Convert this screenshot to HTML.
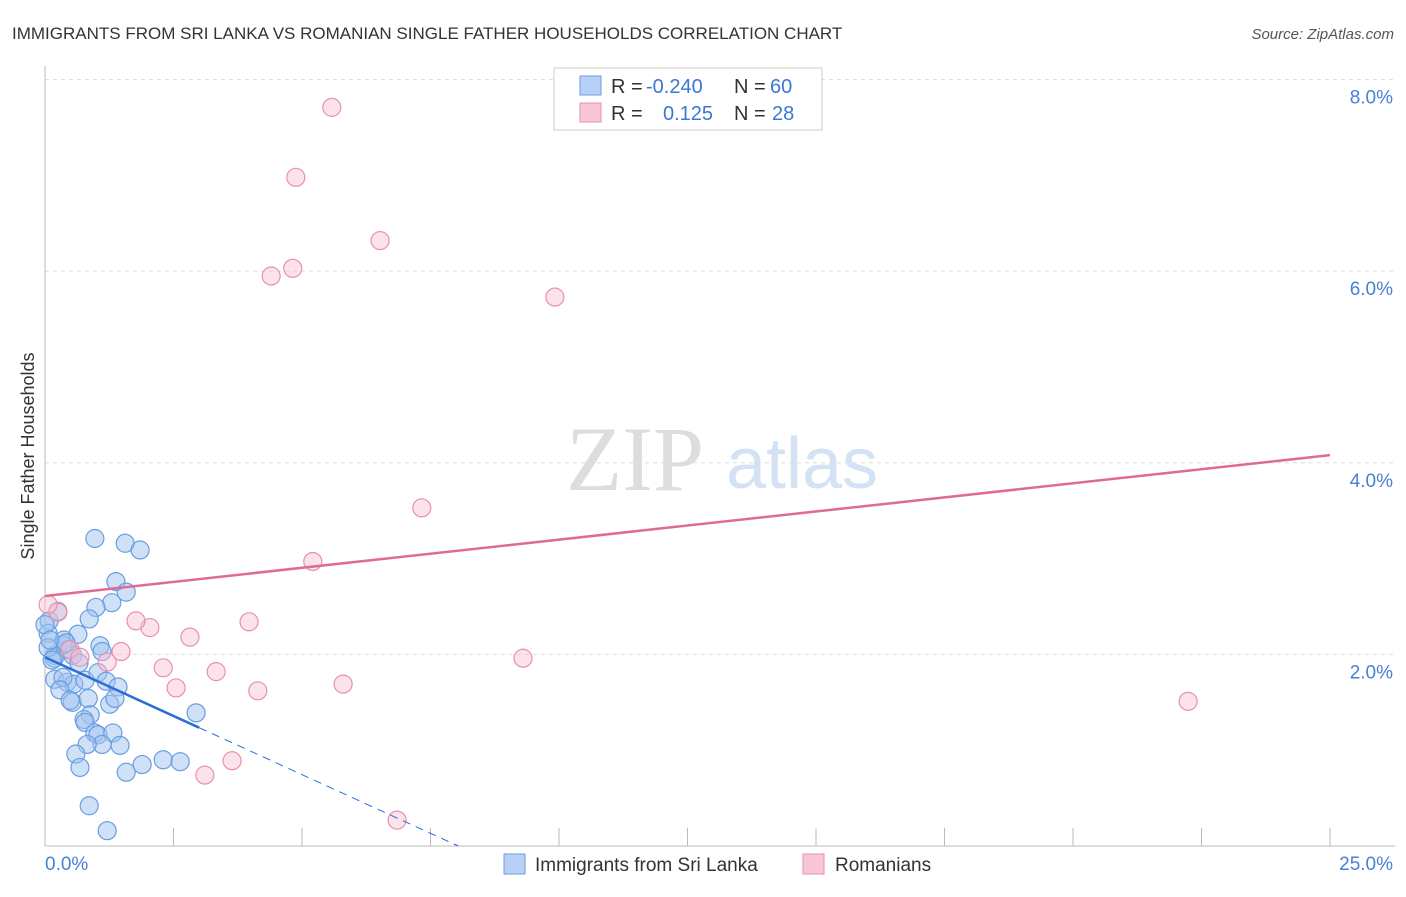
<!DOCTYPE html>
<html><head><meta charset="utf-8"><style>
body{margin:0;background:#fff;font-family:"Liberation Sans",sans-serif;}
</style></head><body>
<svg width="1406" height="892" xmlns="http://www.w3.org/2000/svg" font-family="Liberation Sans, sans-serif">
<text x="12" y="39" font-size="17" fill="#333">IMMIGRANTS FROM SRI LANKA VS ROMANIAN SINGLE FATHER HOUSEHOLDS CORRELATION CHART</text>
<text x="1394" y="39" font-size="15" fill="#555" font-style="italic" text-anchor="end">Source: ZipAtlas.com</text>
<text x="34" y="456" font-size="18" fill="#333" text-anchor="middle" transform="rotate(-90 34 456)">Single Father Households</text>
<g>
<text x="635" y="490" font-size="92" fill="#ddd" font-family="Liberation Serif, serif" text-anchor="middle">ZIP</text>
<text x="802" y="488" font-size="72" fill="#d4e2f5" text-anchor="middle">atlas</text>
</g>
<g id="grid"></g>
<g id="axes"></g>
<g id="marks"></g>
<g>
<rect x="554" y="68" width="268" height="62" fill="#fff" stroke="#ccc"/>
<rect x="580" y="76" width="21" height="19" fill="#b8d0f5" stroke="#6a9de0"/>
<text x="611" y="93" font-size="20" fill="#333">R =</text>
<text x="646" y="93" font-size="20" fill="#3a78d4">-0.240</text>
<text x="734" y="93" font-size="20" fill="#333">N =</text>
<text x="770" y="93" font-size="20" fill="#3a78d4">60</text>
<rect x="580" y="103" width="21" height="19" fill="#f8c6d6" stroke="#e890ad"/>
<text x="611" y="120" font-size="20" fill="#333">R =</text>
<text x="663" y="120" font-size="20" fill="#3a78d4">0.125</text>
<text x="734" y="120" font-size="20" fill="#333">N =</text>
<text x="772" y="120" font-size="20" fill="#3a78d4">28</text>
</g>
<g>
<rect x="504" y="854" width="21" height="20" fill="#b8d0f5" stroke="#6a9de0"/>
<text x="535" y="871" font-size="19" fill="#333">Immigrants from Sri Lanka</text>
<rect x="803" y="854" width="21" height="20" fill="#f8c6d6" stroke="#e890ad"/>
<text x="835" y="871" font-size="19" fill="#333">Romanians</text>
</g>
</svg>
<script>
const blueX=[.97,1.56,1.85,1.38,1.58,1.30,.99,.86,.64,.37,.08,.06,.25,.19,.45,.54,.35,1.07,1.11,.66,.18,.06,.19,.43,.56,.35,.78,1.03,1.19,1.42,.53,.84,1.26,.88,.76,.78,.97,1.03,1.32,1.11,.82,.60,.68,1.58,1.89,2.30,2.63,2.94,.86,1.21,0,.10,.29,.49,1.46,1.36,.14,.41];
const blueY=[3.21,3.16,3.09,2.76,2.65,2.54,2.49,2.37,2.21,2.15,2.35,2.22,2.45,1.99,2.05,1.99,2.10,2.09,2.03,1.91,1.96,2.07,1.74,1.71,1.69,1.76,1.73,1.81,1.72,1.66,1.50,1.54,1.48,1.37,1.32,1.29,1.18,1.16,1.18,1.06,1.06,.96,.82,.77,.85,.90,.88,1.39,.42,.16,2.31,2.15,1.63,1.52,1.05,1.54,1.94,2.12];
const pinkX=[5.58,4.88,6.52,4.40,4.82,9.92,7.33,5.21,22.24,9.30,3.97,2.82,2.04,1.77,1.48,1.21,2.30,3.33,2.55,4.14,5.80,3.64,3.11,6.85,.25,.06,.49,.68];
const pinkY=[7.71,6.98,6.32,5.95,6.03,5.73,3.53,2.97,1.51,1.96,2.34,2.18,2.28,2.35,2.03,1.92,1.86,1.82,1.65,1.62,1.69,.89,.74,.27,2.44,2.52,2.05,1.97];
const xTicks=[0,2.5,5,7.5,10,12.5,15,17.5,20,22.5,25];
const yTicks=[2,4,6,8];
const yTickLabels=["2.0%","4.0%","6.0%","8.0%"];
const blueTrend=[1.97,-0.245];
const pinkTrend=[2.61,0.0588];
const NS="http://www.w3.org/2000/svg";
const sx=v=>45+v*51.4, sy=v=>846-v*95.8;
function mk(t,a,p){const e=document.createElementNS(NS,t);for(const k in a)e.setAttribute(k,a[k]);document.getElementById(p).appendChild(e);return e;}
yTicks.forEach((v,i)=>{
 const g=mk('line',{x1:45,x2:1395,y1:sy(v),y2:sy(v),stroke:'#ddd','stroke-dasharray':'4,4'},'grid');
 
 
 const t=mk('text',{x:1393,y:sy(v)+24,'font-size':19,fill:'#4a7fd4','text-anchor':'end'},'axes');
 t.textContent=yTickLabels[i];
 
 
});
const ax=mk('line',{x1:45,x2:1395,y1:846,y2:846,stroke:'#bbb'},'axes');


const ay=mk('line',{x1:45,x2:45,y1:66,y2:846,stroke:'#bbb'},'axes');


xTicks.forEach(v=>{const l=mk('line',{x1:sx(v),x2:sx(v),y1:828,y2:846,stroke:'#bbb'},'axes');
 
 });
[[xTicks[0],'start',45],[xTicks[10],'end',1393]].forEach(([v,a,x])=>{const t=mk('text',{x:x,y:870,'font-size':19,fill:'#4a7fd4','text-anchor':a},'axes');t.textContent=v.toFixed(1)+'%';
 
 });
blueX.forEach((x,i)=>{const c=mk('circle',{cx:sx(x),cy:sy(blueY[i]),r:9,fill:'rgba(160,195,240,0.5)',stroke:'#6a9de0','stroke-width':1.2},'marks');
 
 });
pinkX.forEach((x,i)=>{const c=mk('circle',{cx:sx(x),cy:sy(pinkY[i]),r:9,fill:'rgba(248,190,210,0.45)',stroke:'#e890ad','stroke-width':1.2},'marks');
 
 });
const bEnd=-blueTrend[0]/blueTrend[1];
const b1=mk('line',{x1:sx(0),y1:sy(blueTrend[0]),x2:sx(3),y2:sy(blueTrend[0]+blueTrend[1]*3),stroke:'#2a6fd6','stroke-width':2.5},'marks');


const b2=mk('line',{x1:sx(3),y1:sy(blueTrend[0]+blueTrend[1]*3),x2:sx(bEnd),y2:sy(0),stroke:'#2a6fd6','stroke-width':1,'stroke-dasharray':'8,6'},'marks');


const p1=mk('line',{x1:sx(0),y1:sy(pinkTrend[0]),x2:sx(25),y2:sy(pinkTrend[0]+pinkTrend[1]*25),stroke:'#e06a94','stroke-width':2.5},'marks');


</script>
</body></html>
